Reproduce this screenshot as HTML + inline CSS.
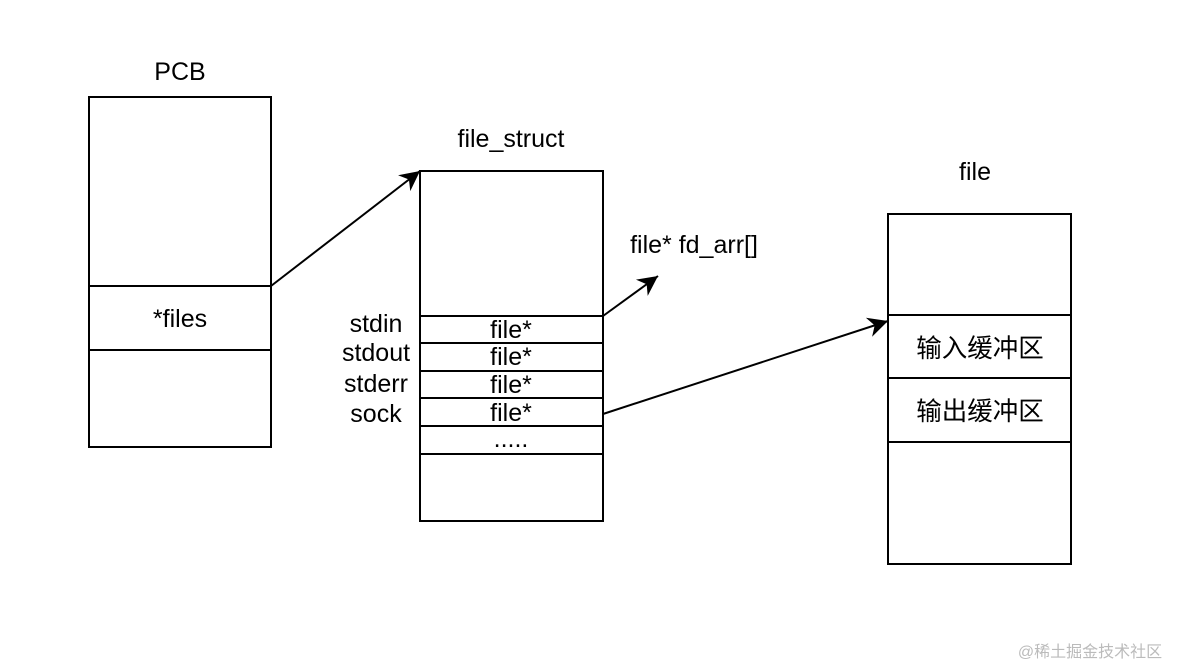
<!DOCTYPE html>
<html><head><meta charset="utf-8"><style>body{margin:0;background:#fff}</style></head><body>
<svg width="1178" height="666" xmlns="http://www.w3.org/2000/svg" font-family="Liberation Sans, Arial, sans-serif" font-size="25">
<defs>
<marker id="b" markerWidth="22" markerHeight="22" refX="20" refY="11" orient="auto" markerUnits="userSpaceOnUse" viewBox="0 0 22 22"><path d="M0,1 L20,11 L0,21 L6,11 Z" fill="#000"/></marker></defs>
<g fill="none" stroke="#000" stroke-width="2">
<rect x="89" y="97" width="182" height="350"/>
<line x1="89" y1="286" x2="271" y2="286"/><line x1="89" y1="350" x2="271" y2="350"/>
<rect x="420" y="171" width="183" height="350"/>
<line x1="420" y1="316" x2="603" y2="316"/><line x1="420" y1="343" x2="603" y2="343"/>
<line x1="420" y1="371" x2="603" y2="371"/><line x1="420" y1="398" x2="603" y2="398"/>
<line x1="420" y1="426" x2="603" y2="426"/><line x1="420" y1="454" x2="603" y2="454"/>
<rect x="888" y="214" width="183" height="350"/>
<line x1="888" y1="315" x2="1071" y2="315"/><line x1="888" y1="378" x2="1071" y2="378"/><line x1="888" y1="442" x2="1071" y2="442"/>
<line x1="271" y1="286" x2="420" y2="171" marker-end="url(#b)"/>
<line x1="603" y1="316" x2="658" y2="276" marker-end="url(#b)"/>
<line x1="603" y1="414" x2="888" y2="321" marker-end="url(#b)"/>
</g>
<g fill="#000" text-anchor="middle">
<text x="180" y="80">PCB</text>
<text x="180" y="327">*files</text>
<text x="511" y="147">file_struct</text>
<text x="975" y="180">file</text>
<text x="694" y="253">file* fd_arr[]</text>
<text x="511" y="338">file*</text><text x="511" y="365">file*</text><text x="511" y="393">file*</text><text x="511" y="421">file*</text>
<text x="511" y="447">.....</text>
<text x="376" y="332">stdin</text><text x="376" y="361">stdout</text><text x="376" y="392">stderr</text><text x="376" y="422">sock</text>
<text x="980" y="357" font-size="25.5" font-family="Liberation Sans, Noto Sans CJK SC, sans-serif">输入缓冲区</text>
<text x="980" y="420" font-size="25.5" font-family="Liberation Sans, Noto Sans CJK SC, sans-serif">输出缓冲区</text>
<text x="1090" y="657" font-size="16" fill="#bbb" font-family="Liberation Sans, Noto Sans CJK SC, sans-serif">@稀土掘金技术社区</text>
</g>
</svg>
</body></html>
